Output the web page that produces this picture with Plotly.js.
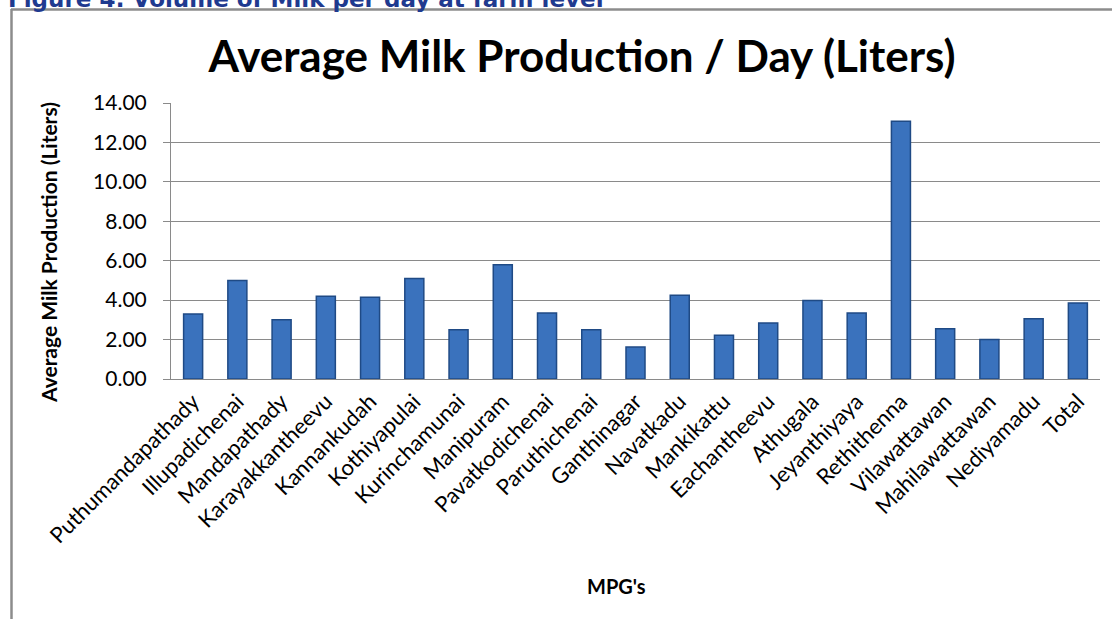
<!DOCTYPE html>
<html>
<head>
<meta charset="utf-8">
<script src="https://cdn.plot.ly/plotly-3.0.1.min.js"></script>
<style>html,body{margin:0;padding:0;background:#fff;}#chart{width:1112px;height:619px;}</style>
</head>
<body>
<div id="chart"></div>
<script>
// Data
const categories = ["Puthumandapathady","Illupadichenai","Mandapathady","Karayakkantheevu","Kannankudah","Kothiyapulai","Kurinchamunai","Manipuram","Pavatkodichenai","Paruthichenai","Ganthinagar","Navatkadu","Mankikattu","Eachantheevu","Athugala","Jeyanthiyaya","Rethithenna","Vilawattawan","Mahilawattawan","Nediyamadu","Total"];
const milkPerDay = [3.30, 5.00, 3.00, 4.20, 4.15, 5.10, 2.50, 5.80, 3.35, 2.50, 1.62, 4.25, 2.22, 2.84, 3.98, 3.35, 13.07, 2.55, 2.00, 3.05, 3.86];
const yTickValues = [0, 2, 4, 6, 8, 10, 12, 14];
const chartTitle = "Average Milk Production / Day (Liters)";
const yTitle = "Average Milk Production (Liters)";
const xTitle = "MPG's";
const caption = "Figure 4: Volume of Milk per day at farm level";

const W = 1112, H = 619;
const mL = 171, mR = 12, mT = 103, mB = 240;
const pw = W - mL - mR, ph = H - mT - mB;
const px = v => (v - mL) / pw;
const py = v => (H - mB - v) / ph;

const trace = {
  type: 'bar',
  x: categories,
  y: milkPerDay,
  marker: {color: '#3A72BD', line: {color: '#1F4A85', width: 1.5}},
  hoverinfo: 'x+y'
};

const layout = {
  width: W, height: H,
  margin: {l: mL, r: mR, t: mT, b: mB, pad: 0},
  paper_bgcolor: '#ffffff', plot_bgcolor: '#ffffff',
  font: {family: 'Lato, "Open Sans", sans-serif', color: '#000'},
  showlegend: false,
  bargap: 0.57,
  title: {
    text: '<b>' + chartTitle + '</b>',
    font: {family: 'Lato, sans-serif', size: 44, color: '#000'},
    x: 582 / W, xref: 'container', xanchor: 'center',
    y: 1 - 57 / H, yref: 'container', yanchor: 'middle'
  },
  xaxis: {
    type: 'category',
    tickangle: -45,
    tickfont: {family: 'Lato, sans-serif', size: 22, color: '#000'},
    showgrid: false,
    showline: true, linecolor: '#8a8a8a', linewidth: 1,
    ticks: '', zeroline: false,
    automargin: false
  },
  yaxis: {
    range: [0, 14],
    tickvals: yTickValues,
    tickformat: '.2f',
    tickfont: {family: 'Lato, sans-serif', size: 21, color: '#000'},
    showgrid: true, gridcolor: '#8a8a8a', gridwidth: 1,
    showline: true, linecolor: '#8a8a8a', linewidth: 1,
    ticks: 'outside', ticklen: 7, tickcolor: '#8a8a8a',
    ticklabelstandoff: 12,
    zeroline: false,
    automargin: false
  },
  annotations: [
    {
      text: '<b>' + yTitle + '</b>', textangle: -90,
      xref: 'paper', yref: 'paper', x: px(48), y: py(252),
      xanchor: 'center', yanchor: 'middle', showarrow: false,
      font: {family: 'Lato, sans-serif', size: 21, color: '#000'}
    },
    {
      text: '<b>' + xTitle + '</b>',
      xref: 'paper', yref: 'paper', x: px(616), y: py(586),
      xanchor: 'center', yanchor: 'middle', showarrow: false,
      font: {family: 'Lato, sans-serif', size: 20, color: '#000'}
    },
    {
      text: '<b>' + caption + '</b>',
      xref: 'paper', yref: 'paper', x: px(6), y: py(-1),
      xanchor: 'left', yanchor: 'middle', showarrow: false,
      font: {family: '"DejaVu Sans", Verdana, sans-serif', size: 23, color: '#1F3A8F'}
    }
  ],
  shapes: [
    {type: 'line', xref: 'paper', yref: 'paper', x0: px(11), x1: px(1112), y0: py(9.5), y1: py(9.5), line: {color: '#8c8c8c', width: 2.5}},
    {type: 'line', xref: 'paper', yref: 'paper', x0: px(11.5), x1: px(11.5), y0: py(9), y1: py(619), line: {color: '#8c8c8c', width: 2.5}}
  ]
};

Plotly.newPlot('chart', [trace], layout, {displayModeBar: false, responsive: false});
</script>
</body>
</html>
